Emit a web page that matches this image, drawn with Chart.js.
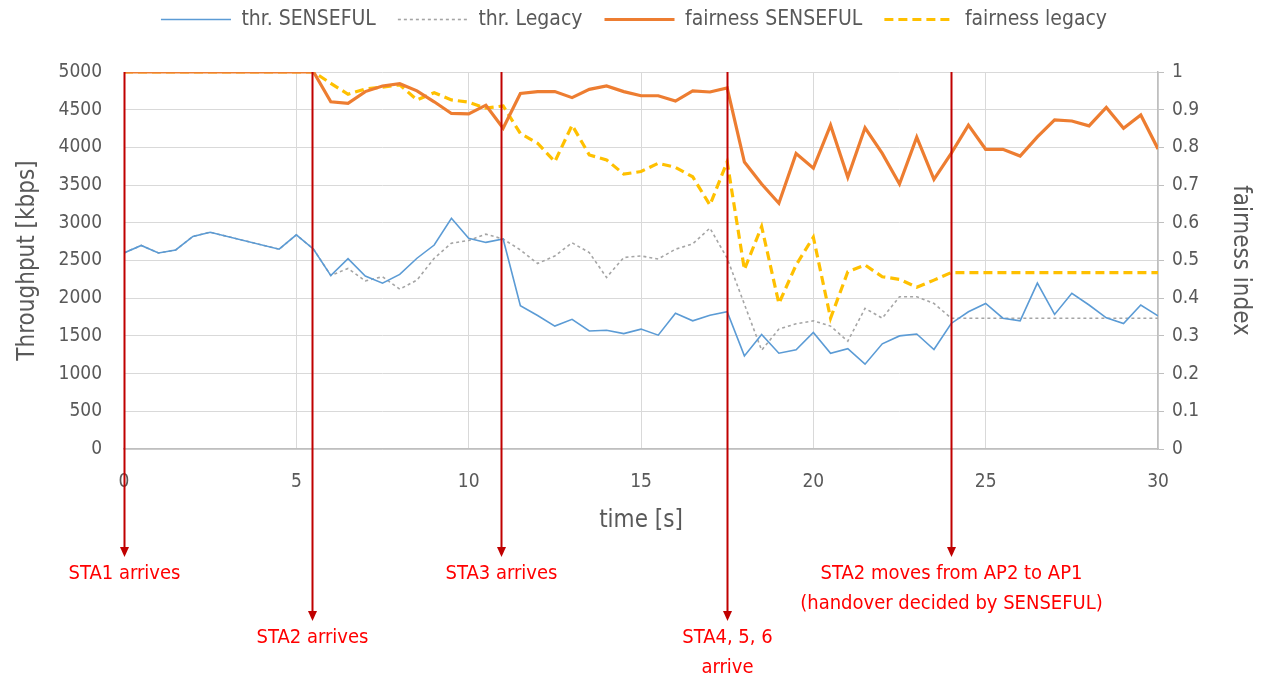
<!doctype html>
<html lang="en">
<head>
  <meta charset="utf-8">
  <title>SENSEFUL vs legacy</title>
  <style>
    * { margin: 0; padding: 0; }
    body { background: #fff; }
    .chartBox { width: 1266px; height: 676px; }
  </style>
</head>
<body>
  <div class="chartBox">
    <canvas id="myChart" width="1266" height="676"></canvas>
  </div>
  <script src="https://cdn.jsdelivr.net/npm/chart.js"></script>
  <script>
    // data (0.5 s steps)
    const times = [0, 0.5, 1, 1.5, 2, 2.5, 3, 3.5, 4, 4.5, 5, 5.5, 6, 6.5, 7, 7.5, 8, 8.5, 9, 9.5,
      10, 10.5, 11, 11.5, 12, 12.5, 13, 13.5, 14, 14.5, 15, 15.5, 16, 16.5, 17, 17.5, 18, 18.5, 19, 19.5,
      20, 20.5, 21, 21.5, 22, 22.5, 23, 23.5, 24, 24.5, 25, 25.5, 26, 26.5, 27, 27.5, 28, 28.5, 29, 29.5, 30];

    const thrSenseful = [2600, 2700, 2600, 2640, 2820, 2875, null, null, null, 2650, 2840, 2650, 2300, 2525, 2295, 2200, 2315, 2530, 2705, 3060,
      2795, 2740, 2785, 1900, 1770, 1630, 1720, 1565, 1575, 1530, 1590, 1510, 1800, 1700, 1775, 1820, 1235, 1520, 1270, 1315,
      1545, 1270, 1330, 1125, 1395, 1500, 1525, 1320, 1665, 1820, 1930, 1735, 1700, 2200, 1785, 2065, 1910, 1740, 1665, 1910, 1765];

    const thrLegacy = [2600, 2700, 2600, 2640, 2820, 2875, null, null, null, 2650, 2840, 2650, 2300, 2395, 2230, 2285, 2120, 2240, 2530, 2730,
      2765, 2850, 2785, 2640, 2460, 2560, 2735, 2605, 2275, 2540, 2560, 2520, 2650, 2720, 2930, 2530, 1920, 1310, 1590, 1660,
      1700, 1630, 1430, 1865, 1735, 2020, 2020, 1930, 1735, 1735, 1735, 1735, 1735, 1735, 1735, 1735, 1735, 1735, 1735, 1735, 1735];

    const fairSenseful = [1, 1, 1, 1, 1, 1, 1, 1, 1, 1, 1, 1, 0.921, 0.917, 0.948, 0.963, 0.969, 0.95, 0.921, 0.89,
      0.889, 0.912, 0.851, 0.943, 0.948, 0.948, 0.932, 0.954, 0.963, 0.948, 0.937, 0.937, 0.923, 0.95, 0.947, 0.958, 0.761, 0.703, 0.652, 0.784,
      0.745, 0.859, 0.721, 0.852, 0.784, 0.703, 0.827, 0.715, 0.784, 0.859, 0.795, 0.795, 0.777, 0.828, 0.873, 0.87, 0.857, 0.906, 0.851, 0.886, 0.796];

    const fairLegacy = [1, 1, 1, 1, 1, 1, 1, 1, 1, 1, 1, 1, 0.97, 0.941, 0.955, 0.96, 0.966, 0.926, 0.945, 0.926,
      0.92, 0.904, 0.91, 0.837, 0.811, 0.762, 0.859, 0.78, 0.767, 0.729, 0.736, 0.758, 0.747, 0.722, 0.647, 0.762, 0.476, 0.59, 0.386, 0.488,
      0.562, 0.347, 0.47, 0.488, 0.457, 0.45, 0.429, 0.448, 0.468, 0.468, 0.468, 0.468, 0.468, 0.468, 0.468, 0.468, 0.468, 0.468, 0.468, 0.468, 0.468];

    // station events drawn as red arrows under the axis
    const eventTimes = [0, 5.45, 10.95, 17.5, 24];
    const eventLabels = [['STA1 arrives'], ['STA2 arrives'], ['STA3 arrives'], ['STA4, 5, 6', 'arrive'],
      ['STA2 moves from AP2 to AP1', '(handover decided by SENSEFUL)']];
    const eventLong = [false, true, false, true, false];

    const FONT = '"Liberation Sans Narrow", "DejaVu Sans Condensed", "Open Sans", sans-serif';
    const GREY = '#595959';

    const pts = arr => arr.map((v, i) => ({ x: times[i], y: v }));

    const data = {
      datasets: [{
        label: 'thr. SENSEFUL',
        data: pts(thrSenseful),
        borderColor: '#5B9BD5',
        backgroundColor: '#5B9BD5',
        borderWidth: 1.6,
        yAxisID: 'y'
      }, {
        label: 'thr. Legacy',
        data: pts(thrLegacy),
        borderColor: '#A5A5A5',
        backgroundColor: '#A5A5A5',
        borderWidth: 1.6,
        borderDash: [3, 3],
        yAxisID: 'y'
      }, {
        label: 'fairness SENSEFUL',
        data: pts(fairSenseful),
        borderColor: '#ED7D31',
        backgroundColor: '#ED7D31',
        borderWidth: 3.2,
        yAxisID: 'y2'
      }, {
        label: 'fairness legacy',
        data: pts(fairLegacy),
        borderColor: '#FFC000',
        backgroundColor: '#FFC000',
        borderWidth: 3.2,
        borderDash: [9, 5],
        yAxisID: 'y2'
      }]
    };

    // push the plot area down below the legend
    const legendGap = {
      id: 'legendGap',
      beforeInit(chart) {
        const fit = chart.legend.fit;
        chart.legend.fit = function () {
          fit.bind(chart.legend)();
          this.height += 32;
        };
      }
    };

    const eventArrows = {
      id: 'eventArrows',
      afterDatasetsDraw(chart) {
        const { ctx, chartArea: { top }, scales: { x } } = chart;
        ctx.save();
        eventTimes.forEach((t, i) => {
          const px = Math.round(x.getPixelForValue(t)) + 0.5;
          const tip = eventLong[i] ? 621 : 557;
          ctx.strokeStyle = '#C00000';
          ctx.fillStyle = '#C00000';
          ctx.lineWidth = 2;
          ctx.beginPath();
          ctx.moveTo(px, top);
          ctx.lineTo(px, tip - 8);
          ctx.stroke();
          ctx.beginPath();
          ctx.moveTo(px - 4.5, tip - 10);
          ctx.lineTo(px + 4.5, tip - 10);
          ctx.lineTo(px, tip);
          ctx.closePath();
          ctx.fill();

          ctx.fillStyle = '#FF0000';
          ctx.font = '20px ' + FONT;
          ctx.textAlign = 'center';
          ctx.textBaseline = 'middle';
          eventLabels[i].forEach((line, j) => {
            ctx.fillText(line, px, tip + 17 + j * 30);
          });
        });
        ctx.restore();
      }
    };

    const config = {
      type: 'line',
      data,
      options: {
        responsive: false,
        animation: false,
        spanGaps: true,
        elements: { point: { radius: 0 }, line: { tension: 0 } },
        layout: { padding: { top: -13, bottom: 137, left: 9, right: 7 } },
        plugins: {
          tooltip: { enabled: false },
          legend: {
            position: 'top',
            labels: {
              usePointStyle: true,
              pointStyle: 'line',
              pointStyleWidth: 70,
              boxHeight: 10,
              color: GREY,
              padding: 22,
              font: { family: FONT, size: 21 },
              generateLabels(chart) {
                const items = Chart.defaults.plugins.legend.labels.generateLabels(chart);
                items.forEach(item => {
                  const ds = chart.data.datasets[item.datasetIndex];
                  item.lineWidth = ds.borderWidth;
                  item.lineDash = ds.borderDash || [];
                  item.strokeStyle = ds.borderColor;
                  item.pointStyle = 'line';
                });
                return items;
              }
            }
          }
        },
        scales: {
          x: {
            type: 'linear',
            min: 0,
            max: 30,
            ticks: { stepSize: 5, color: GREY, font: { family: FONT, size: 19 }, padding: 22 },
            grid: { color: '#D9D9D9', drawTicks: false },
            border: { color: '#BFBFBF', width: 1.5 },
            title: { display: true, text: 'time [s]', color: GREY, font: { family: FONT, size: 24 }, padding: { top: 8 } },
            afterFit(scale) { scale.height = 90; }
          },
          y: {
            type: 'linear',
            position: 'left',
            min: 0,
            max: 5000,
            ticks: { stepSize: 500, color: GREY, font: { family: FONT, size: 19 }, padding: 22, callback: v => String(v) },
            grid: { color: '#D9D9D9', drawTicks: false },
            border: { display: false },
            title: { display: true, text: 'Throughput [kbps]', color: GREY, font: { family: FONT, size: 24 }, padding: { bottom: 4 } },
            afterFit(scale) { scale.width = 115; }
          },
          y2: {
            type: 'linear',
            position: 'right',
            min: 0,
            max: 1,
            ticks: { stepSize: 0.1, color: GREY, font: { family: FONT, size: 19 }, padding: 8, callback: v => String(+v.toFixed(1)) },
            grid: { drawOnChartArea: false, color: '#BFBFBF', tickLength: 6 },
            border: { color: '#BFBFBF', width: 1.5 },
            title: { display: true, text: 'fairness index', color: GREY, font: { family: FONT, size: 24 } },
            afterFit(scale) { scale.width = 101; }
          }
        }
      },
      plugins: [legendGap, eventArrows]
    };

    const myChart = new Chart(document.getElementById('myChart'), config);
  </script>
</body>
</html>
